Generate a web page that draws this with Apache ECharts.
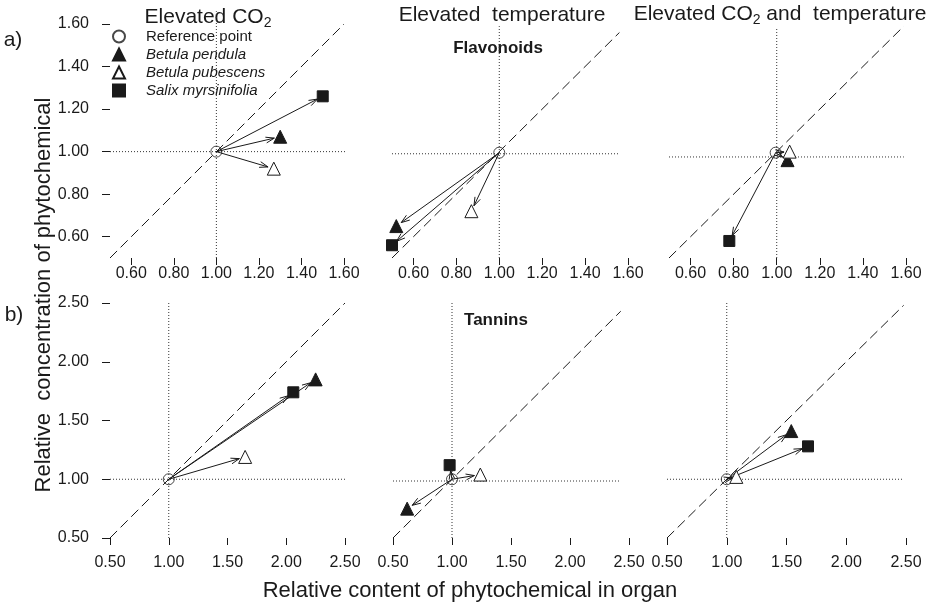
<!DOCTYPE html>
<html>
<head>
<meta charset="utf-8">
<script src="https://cdn.jsdelivr.net/npm/echarts@6/dist/echarts.min.js"></script>
<style>
  html, body { margin: 0; background: #fff; }
  #chart { width: 935px; height: 606px; }
</style>
</head>
<body>
<div id="chart"></div>
<script>
// tick labels
const topTicks = [0.6, 0.8, 1.0, 1.2, 1.4, 1.6];
const bottomTicks = [0.5, 1.0, 1.5, 2.0, 2.5];

// species, same order in every panel array below
const species = ["Betula pendula", "Betula pubescens", "Salix myrsinifolia"];

// [relative content, relative concentration]
const flavCO2 = [[1.30, 1.07], [1.27, 0.92], [1.50, 1.26]];
const flavTemp = [[0.52, 0.65], [0.87, 0.72], [0.50, 0.56]];
const flavBoth = [[1.05, 0.96], [1.06, 1.00], [0.78, 0.58]];
const tanCO2 = [[2.25, 1.85], [1.65, 1.19], [2.06, 1.74]];
const tanTemp = [[0.62, 0.75], [1.24, 1.04], [0.98, 1.12]];
const tanBoth = [[1.54, 1.41], [1.08, 1.02], [1.68, 1.28]];

// reference point of each panel
const refPoints = [[1, 1], [1, 0.995], [0.995, 0.995], [1, 1], [1, 1], [1, 1]];

// guide lines: y of horizontal dotted line, its end, top of vertical dotted line, end of 1:1 line
const hGuideY = [1.0, 0.99, 0.975, 1.0, 0.985, 1.0];
const hGuideEnd = [1.61, 1.56, 1.59, 2.51, 2.42, 2.47];
const vGuideTop = [1.66, 1.59, 1.58, 2.5, 2.5, 2.5];
const diagEnd = [1.6, 1.56, 1.59, 2.5, 2.43, 2.48];

const panelPoints = [flavCO2, flavTemp, flavBoth, tanCO2, tanTemp, tanBoth];

const layout = [
  { left: 110, top: 24, width: 234, height: 234 },
  { left: 392, top: 24, width: 236, height: 234 },
  { left: 669, top: 24, width: 237, height: 234 },
  { left: 110, top: 303, width: 235, height: 235 },
  { left: 393, top: 303, width: 236, height: 235 },
  { left: 667, top: 303, width: 239, height: 235 },
];

const FONT = "'Liberation Sans', Arial, sans-serif";
const INK = "#1a1a1a";

const speciesStyle = [
  { symbol: "triangle", size: 13, fill: INK },
  { symbol: "triangle", size: 13, fill: "#fff" },
  { symbol: "rect", size: 11, fill: INK },
];

function renderArrow(params, api) {
  const a = api.coord([api.value(0), api.value(1)]);
  const b = api.coord([api.value(2), api.value(3)]);
  const dx = b[0] - a[0], dy = b[1] - a[1];
  const len = Math.hypot(dx, dy);
  if (len < 2) return null;
  const ux = dx / len, uy = dy / len;
  const gap = Math.min(6, len * 0.4);
  const tip = [b[0] - ux * gap, b[1] - uy * gap];
  const head = 9, ang = 0.33;
  const vx = -ux, vy = -uy;
  const c = Math.cos(ang), s = Math.sin(ang);
  const l = [tip[0] + head * (vx * c - vy * s), tip[1] + head * (vx * s + vy * c)];
  const r = [tip[0] + head * (vx * c + vy * s), tip[1] + head * (-vx * s + vy * c)];
  const style = { stroke: INK, lineWidth: 1, fill: null };
  return {
    type: "group",
    children: [
      { type: "line", shape: { x1: a[0], y1: a[1], x2: tip[0], y2: tip[1] }, style: style },
      { type: "polyline", shape: { points: [l, tip, r] }, style: style },
    ],
  };
}

const grid = [], xAxis = [], yAxis = [], series = [];

layout.forEach((box, i) => {
  const top = i < 3;
  const ticks = top ? topTicks : bottomTicks;
  const max = top ? 1.6 : 2.5;
  grid.push(box);
  xAxis.push({
    gridIndex: i, type: "value", min: 0.5, max: max,
    axisLine: { show: false },
    splitLine: { show: false },
    axisTick: { show: true, length: 7, customValues: ticks, lineStyle: { color: INK } },
    axisLabel: {
      customValues: ticks, formatter: (v) => v.toFixed(2),
      fontSize: 16, color: INK, fontFamily: FONT, margin: top ? 8 : 17,
    },
  });
  const showY = i === 0 || i === 3;
  yAxis.push({
    gridIndex: i, type: "value", min: 0.5, max: max, show: showY,
    axisLine: { show: false },
    splitLine: { show: false },
    axisTick: { show: true, length: 8, customValues: ticks, lineStyle: { color: INK } },
    axisLabel: {
      customValues: ticks, formatter: (v) => v.toFixed(2),
      fontSize: 16, color: INK, fontFamily: FONT, margin: 21,
    },
  });

  const ref = refPoints[i];
  const pts = panelPoints[i];
  const base = { xAxisIndex: i, yAxisIndex: i, silent: true, symbol: "none", animation: false };

  series.push(Object.assign({}, base, {
    type: "line", z: 1,
    data: [[0.5, 0.5], [diagEnd[i], diagEnd[i]]],
    lineStyle: { color: INK, width: 1, type: [10, 5] },
  }));
  series.push(Object.assign({}, base, {
    type: "line", z: 1, clip: false,
    data: [[0.5, hGuideY[i]], [hGuideEnd[i], hGuideY[i]]],
    lineStyle: { color: "#333", width: 1, type: [1, 2] },
  }));
  series.push(Object.assign({}, base, {
    type: "line", z: 1, clip: false,
    data: [[1, 0.5], [1, vGuideTop[i]]],
    lineStyle: { color: "#333", width: 1, type: [1, 2] },
  }));
  series.push({
    type: "custom", xAxisIndex: i, yAxisIndex: i, silent: true, z: 2, clip: false,
    renderItem: renderArrow,
    encode: { x: [0, 2], y: [1, 3] },
    data: pts.map((p) => [ref[0], ref[1], p[0], p[1]]),
    animation: false,
  });
  series.push({
    type: "scatter", name: "Reference point", xAxisIndex: i, yAxisIndex: i, z: 3,
    symbol: "circle", symbolSize: 11, data: [ref], animation: false,
    itemStyle: { color: "rgba(255,255,255,0)", borderColor: INK, borderWidth: 1 },
  });
  species.forEach((name, k) => {
    const st = speciesStyle[k];
    series.push({
      type: "scatter", name: name, xAxisIndex: i, yAxisIndex: i, z: 4,
      symbol: st.symbol, symbolSize: st.size, data: [pts[k]], animation: false,
      itemStyle: { color: st.fill, borderColor: INK, borderWidth: 1, opacity: 1 },
    });
  });
});

const txt = (text, x, y, size, extra) => ({
  type: "text", x: x, y: y, silent: true,
  style: Object.assign({
    text: text, fill: INK, fontSize: size, fontFamily: FONT,
    align: "center", verticalAlign: "middle",
  }, extra || {}),
});

const subRich = {
  sub: { fontSize: 14, fontFamily: FONT, lineHeight: 14, padding: [12, 0, 0, 0], fill: INK },
  m: { fontSize: 21, fontFamily: FONT, lineHeight: 22 },
};

const graphic = [
  txt("a)", 13, 40, 21),
  txt("b)", 14, 315, 21),
  txt("{m|Elevated CO}{sub|2}", 208, 17, 21, { rich: subRich }),
  txt("Elevated  temperature", 502, 15, 21),
  txt("{m|Elevated CO}{sub|2}{m| and  temperature}", 780, 14, 21, { rich: subRich }),
  txt("Flavonoids", 498, 48, 17, { fontWeight: "bold" }),
  txt("Tannins", 496, 320, 17, { fontWeight: "bold" }),
  txt("Relative content of phytochemical in organ", 470, 591, 22),
  Object.assign(txt("Relative  concentration of phytochemical", 44, 295, 22), { rotation: Math.PI / 2 }),
];

const chart = echarts.init(document.getElementById("chart"), null, { renderer: "canvas" });
chart.setOption({
  animation: false,
  backgroundColor: "#fff",
  textStyle: { fontFamily: FONT },
  grid: grid,
  xAxis: xAxis,
  yAxis: yAxis,
  legend: {
    data: ["Reference point"].concat(species),
    orient: "vertical", left: 112, top: 29, padding: 0,
    itemWidth: 12, itemHeight: 12, itemGap: 3,
    selectedMode: false,
    formatter: (n) => (n === "Reference point" ? "{n|" + n + "}" : "{i|" + n + "}"),
    textStyle: {
      fontSize: 15, color: INK, fontFamily: FONT, lineHeight: 14, padding: [0, 0, 0, 16],
      rich: {
        n: { fontSize: 15, fontFamily: FONT, color: INK, lineHeight: 14 },
        i: { fontStyle: "italic", fontSize: 15, fontFamily: FONT, color: INK, lineHeight: 14 },
      },
    },
  },
  graphic: graphic,
  series: series,
});
</script>
</body>
</html>
